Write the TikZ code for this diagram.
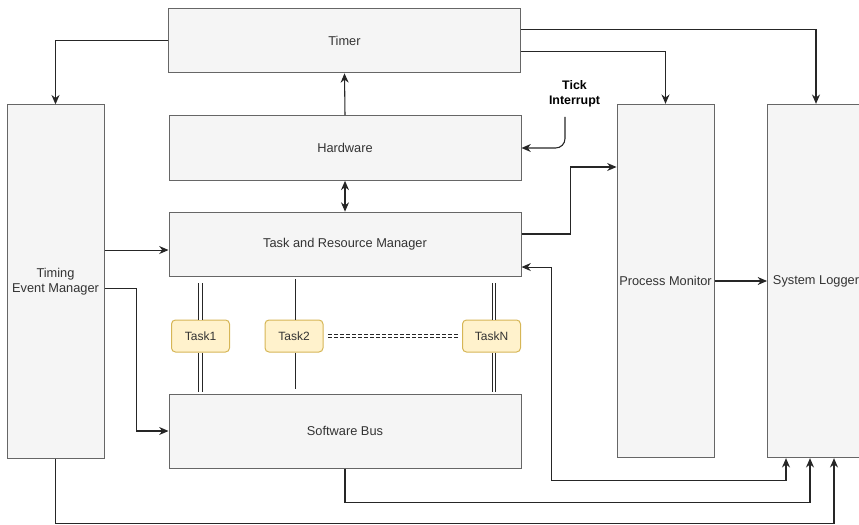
\documentclass[tikz,border=0pt]{standalone}
\usepackage{fontspec}
\setmainfont{Liberation Sans}
\usepackage{tikz}
\usetikzlibrary{arrows.meta, positioning, calc}
\definecolor{boxfill}{HTML}{F5F5F5}
\definecolor{boxline}{HTML}{666666}
\definecolor{txtgray}{HTML}{333333}
\definecolor{taskfill}{HTML}{FFF2CC}
\definecolor{taskline}{HTML}{D6B656}

\begin{document}
\begin{tikzpicture}[
  x=0.75pt, y=-0.75pt,
  box/.style={draw=boxline, fill=boxfill, line width=0.75pt, align=center, text=txtgray, inner xsep=0.5pt, font=\fontsize{9.6}{11.3}\selectfont},
  wide/.style={box, minimum width=264pt, minimum height=48.5pt},
  tall/.style={box, minimum width=72.75pt, minimum height=265pt},
  task/.style={draw=taskline, fill=taskfill, line width=0.75pt, rounded corners=3pt, minimum width=43.5pt, minimum height=24pt, text=txtgray, font=\fontsize{9}{11}\selectfont},
  arr/.style={-{Stealth[length=7pt, width=6pt]}, draw=black!85, line width=0.8pt},
  arrb/.style={{Stealth[length=7pt, width=6pt]}-{Stealth[length=7pt, width=6pt]}, draw=black!85, line width=0.8pt},
  dbl/.style={draw=black!85, double=white, double distance=2pt, line width=0.6pt}
]
  \useasboundingbox (0,0) rectangle (859,524);

  \node[wide] (timer) at (344.5,40.5) {Timer};
  \node[wide] (hw) at (345,148) {Hardware};
  \node[wide] (trm) at (345,244.5) {Task and Resource Manager};
  \node[wide, minimum height=55.5pt] (sb) at (345,431) {Software Bus};
  \node[tall] (tem) at (55.5,281.5) {Timing\\Event Manager};
  \node[tall] (pm) at (665.5,281) {Process Monitor};
  \node[tall] (sl) at (816,281) {System Logger};

  \node[task] (t1) at (200.5,336) {Task1};
  \node[task] (t2) at (294,336) {Task2};
  \node[task] (tn) at (491.5,336) {TaskN};

  \node[align=center, font=\fontsize{9.3}{11.3}\selectfont\bfseries] (tick) at (574.5,94) {Tick\\Interrupt};
  \coordinate (tickstart) at (565,117);

  % timer outputs
  \draw[arr] (timer.west) -| (tem.north);
  \draw[arr] ([yshift=-8.6pt]timer.east) -| (pm.north);
  \draw[arr] ([yshift=7.9pt]timer.east) -| (sl.north);

  \draw[arr] (hw.north) -- (timer.south);
  \draw[arrb] (hw.south) -- (trm.north);
  \draw[arr, rounded corners=7pt] (tickstart) |- (hw.east);

  \draw[arr] ([yshift=7.9pt]trm.east) -- ++(49,0) |- ([yshift=85.5pt]pm.west);
  \draw[arr] (pm.east) -- (sl.west);

  \draw[arr] ([yshift=23.6pt]tem.east) -- ([yshift=23.6pt]tem.east -| trm.west);
  \draw[arr] ([yshift=-4.9pt]tem.east) -- ++(32,0) |- (sb.west);

  % returns into the logger
  \draw[arrb] ([yshift=-16.9pt]trm.east) -- ++(30,0) -- ++(0,213) -| ([xshift=-22.5pt]sl.south);
  \draw[arr] (sb.south) -- ++(0,34) -| ([xshift=-4.5pt]sl.south);
  \draw[arr] (tem.south) -- ++(0,64.5) -| ([xshift=13.5pt]sl.south);

  % tasks
  \draw[dbl, shorten >=4.5pt] (t1.north) -- (t1.north |- trm.south);
  \draw[dbl, shorten >=0.8pt] (t1.south) -- (t1.south |- sb.north);
  \draw[draw=black!85, line width=0.75pt, shorten >=1.5pt] ([xshift=0.75pt]t2.north) -- ([xshift=0.75pt]t2.north |- trm.south);
  \draw[draw=black!85, line width=0.75pt, shorten >=3.5pt] ([xshift=0.75pt]t2.south) -- ([xshift=0.75pt]t2.south |- sb.north);
  \draw[dbl, shorten >=4.5pt] ([xshift=1.9pt]tn.north) -- ([xshift=1.9pt]tn.north |- trm.south);
  \draw[dbl, shorten >=0.8pt] ([xshift=1.9pt]tn.south) -- ([xshift=1.9pt]tn.south |- sb.north);
  \draw[dbl, dash pattern=on 3pt off 1.5pt, shorten <=3.5pt, shorten >=3pt] (t2.east) -- (tn.west);
\end{tikzpicture}
\end{document}
